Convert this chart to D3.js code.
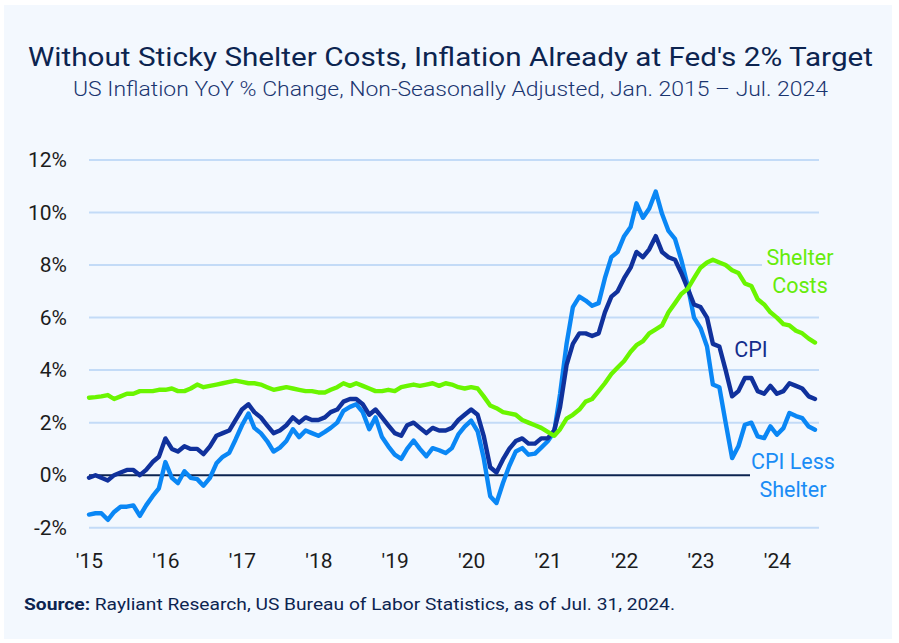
<!DOCTYPE html>
<html>
<head>
<meta charset="utf-8">
<script src="https://cdn.jsdelivr.net/npm/d3@7"></script>
<style>
  html, body { margin: 0; padding: 0; background: #ffffff; }
  svg { display: block; }
</style>
</head>
<body>
<svg id="chart" width="899" height="643"></svg>
<script>
// ---------------- DATA ----------------
const startMonth = new Date(2015, 0, 1);
const endMonth = new Date(2024, 7, 1);
const months = d3.timeMonth.range(startMonth, endMonth); // Jan 2015 .. Jul 2024

const cpi = [
  -0.1, 0.0, -0.1, -0.2, 0.0, 0.1, 0.2, 0.2, 0.0, 0.2, 0.5, 0.7,
  1.4, 1.0, 0.9, 1.1, 1.0, 1.0, 0.8, 1.1, 1.5, 1.6, 1.7, 2.1,
  2.5, 2.7, 2.4, 2.2, 1.9, 1.6, 1.7, 1.9, 2.2, 2.0, 2.2, 2.1,
  2.1, 2.2, 2.4, 2.5, 2.8, 2.9, 2.9, 2.7, 2.3, 2.5, 2.2, 1.9,
  1.6, 1.5, 1.9, 2.0, 1.8, 1.6, 1.8, 1.7, 1.7, 1.8, 2.1, 2.3,
  2.5, 2.3, 1.5, 0.3, 0.1, 0.6, 1.0, 1.3, 1.4, 1.2, 1.2, 1.4,
  1.4, 1.7, 2.6, 4.2, 5.0, 5.4, 5.4, 5.3, 5.4, 6.2, 6.8, 7.0,
  7.5, 7.9, 8.5, 8.3, 8.6, 9.1, 8.5, 8.3, 8.2, 7.7, 7.1, 6.5,
  6.4, 6.0, 5.0, 4.9, 4.0, 3.0, 3.2, 3.7, 3.7, 3.2, 3.1, 3.4,
  3.1, 3.2, 3.5, 3.4, 3.3, 3.0, 2.9
];

const cpiLessShelter = [
  -1.5, -1.45, -1.45, -1.7, -1.4, -1.2, -1.2, -1.15, -1.55, -1.15, -0.8, -0.5,
  0.5, -0.1, -0.3, 0.15, -0.1, -0.15, -0.4, -0.1, 0.45, 0.7, 0.85, 1.35,
  1.9, 2.35, 1.8, 1.6, 1.3, 0.9, 1.05, 1.3, 1.75, 1.45, 1.7, 1.6,
  1.5, 1.65, 1.8, 2.0, 2.45, 2.6, 2.7, 2.4, 1.75, 2.2, 1.45, 1.1,
  0.78, 0.62, 1.0, 1.32, 1.0, 0.72, 1.03, 0.95, 0.84, 1.03, 1.55, 1.85,
  2.08, 1.67, 0.65, -0.8, -1.06, -0.3, 0.35, 0.9, 1.03, 0.78, 0.82, 1.05,
  1.29, 1.65, 3.1, 5.0, 6.4, 6.8, 6.65, 6.45, 6.55, 7.5, 8.3, 8.5,
  9.1, 9.45, 10.35, 9.8, 10.15, 10.8, 9.95, 9.3, 9.0, 8.2, 7.2, 6.0,
  5.6, 4.9, 3.45, 3.35, 2.0, 0.65, 1.1, 1.92, 2.0, 1.48, 1.41, 1.86,
  1.54, 1.79, 2.37, 2.25, 2.17, 1.85, 1.73
];

const shelter = [
  2.95, 2.97, 3.0, 3.05, 2.9, 3.0, 3.1, 3.1, 3.2, 3.2, 3.2, 3.25,
  3.25, 3.3, 3.2, 3.2, 3.3, 3.45, 3.35, 3.4, 3.45, 3.5, 3.55, 3.6,
  3.55, 3.5, 3.5, 3.45, 3.35, 3.25, 3.3, 3.35, 3.3, 3.25, 3.2, 3.2,
  3.15, 3.15, 3.25, 3.35, 3.5, 3.4, 3.5, 3.4, 3.3, 3.2, 3.2, 3.25,
  3.2, 3.35, 3.4, 3.45, 3.4, 3.45, 3.5, 3.4, 3.5, 3.45, 3.35, 3.3,
  3.35, 3.3, 3.0, 2.65, 2.55, 2.4, 2.35, 2.3, 2.1, 2.0, 1.9, 1.8,
  1.65, 1.5, 1.75, 2.15, 2.3, 2.5, 2.8, 2.9, 3.2, 3.5, 3.85, 4.1,
  4.35, 4.7, 4.95, 5.1, 5.4, 5.55, 5.7, 6.2, 6.55, 6.9, 7.1, 7.5,
  7.9, 8.1, 8.2, 8.1, 8.0, 7.8, 7.7, 7.3, 7.2, 6.7, 6.5, 6.2,
  6.0, 5.75, 5.7, 5.5, 5.4, 5.2, 5.05
];

const yTicks = [-2, 0, 2, 4, 6, 8, 10, 12];
const titleText = "Without Sticky Shelter Costs, Inflation Already at Fed's 2% Target";
const subtitleText = "US Inflation YoY % Change, Non-Seasonally Adjusted, Jan. 2015 \u2013 Jul. 2024";
const sourceLabel = "Source:";
const sourceText = " Rayliant Research, US Bureau of Labor Statistics, as of Jul. 31, 2024.";

// ---------------- DRAW ----------------
const svg = d3.select("#chart");
const panelColor = "#f3f8fe";
const navy = "#0c2450";

svg.append("rect").attr("x", 4).attr("y", 5).attr("width", 888).attr("height", 634).attr("fill", panelColor);

const x = d3.scaleTime().domain([months[0], months[months.length - 1]]).range([89, 815]);
const y = d3.scaleLinear().domain([-2, 12]).range([527.7, 160]);
const gridRight = 819;

// gridlines
svg.append("g").selectAll("line").data(yTicks.filter(d => d !== 0)).join("line")
  .attr("x1", 89).attr("x2", gridRight)
  .attr("y1", d => y(d)).attr("y2", d => y(d))
  .attr("stroke", "#c3dbf7").attr("stroke-width", 2);

// zero line
svg.append("line").attr("x1", 89).attr("x2", gridRight).attr("y1", y(0)).attr("y2", y(0))
  .attr("stroke", navy).attr("stroke-width", 2);

// label masks
svg.append("rect").attr("x", 762).attr("y", 244).attr("width", 80).attr("height", 54).attr("fill", panelColor);
svg.append("rect").attr("x", 750).attr("y", 448).attr("width", 92).attr("height", 52).attr("fill", panelColor);

// y axis
const yAxis = d3.axisLeft(y).tickValues(yTicks).tickFormat(d => d + "%").tickSize(0).tickPadding(22);
const yg = svg.append("g").attr("transform", "translate(89,0)").call(yAxis);
yg.select(".domain").remove();
yg.selectAll("text").attr("font-family", "Roboto, sans-serif").attr("font-size", 21).attr("fill", "#1c1c1c");

// x axis
const xAxis = d3.axisBottom(x).ticks(d3.timeYear.every(1)).tickFormat(d3.timeFormat("'%y")).tickSize(0).tickPadding(0);
const xg = svg.append("g").attr("transform", "translate(0,568)").call(xAxis);
xg.select(".domain").remove();
xg.selectAll("text").attr("dy", 0).attr("font-family", "Roboto, sans-serif").attr("font-size", 21).attr("fill", "#1c1c1c");

// lines
const line = vals => d3.line().x((d, i) => x(months[i])).y(d => y(d))(vals);
const series = [
  { vals: cpiLessShelter, color: "#0a87f5" },
  { vals: cpi, color: "#10319c" },
  { vals: shelter, color: "#6af500" }
];
svg.append("g").selectAll("path").data(series).join("path")
  .attr("d", d => line(d.vals))
  .attr("fill", "none").attr("stroke", d => d.color).attr("stroke-width", 4.4)
  .attr("stroke-linejoin", "round").attr("stroke-linecap", "round");

// series labels
const lab = (txt, xx, yy, color) => svg.append("text").text(txt).attr("x", xx).attr("y", yy)
  .attr("text-anchor", "middle").attr("font-family", "Roboto, sans-serif").attr("font-size", 21.5).attr("fill", color);
lab("Shelter", 800, 265, "#66ec0a");
lab("Costs", 800, 293, "#66ec0a");
lab("CPI", 751, 357, "#142e8c");
lab("CPI Less", 793, 469, "#1a8cf5");
lab("Shelter", 793, 497, "#1a8cf5");

// titles
svg.append("text").text(titleText).attr("x", 28).attr("y", 66)
  .attr("font-family", "Roboto, sans-serif").attr("font-size", 26).attr("fill", navy)
  .attr("textLength", 845).attr("lengthAdjust", "spacingAndGlyphs");
svg.append("text").text(subtitleText).attr("x", 73).attr("y", 96)
  .attr("font-family", "Roboto, sans-serif").attr("font-size", 20).attr("font-weight", 300).attr("fill", "#1a3570")
  .attr("textLength", 755).attr("lengthAdjust", "spacingAndGlyphs");

// source
const src = svg.append("text").attr("x", 24).attr("y", 610)
  .attr("font-family", "Roboto, sans-serif").attr("font-size", 17).attr("fill", navy)
  .attr("textLength", 651).attr("lengthAdjust", "spacingAndGlyphs");
src.append("tspan").attr("font-weight", 700).text(sourceLabel);
src.append("tspan").text(sourceText);
</script>
</body>
</html>
